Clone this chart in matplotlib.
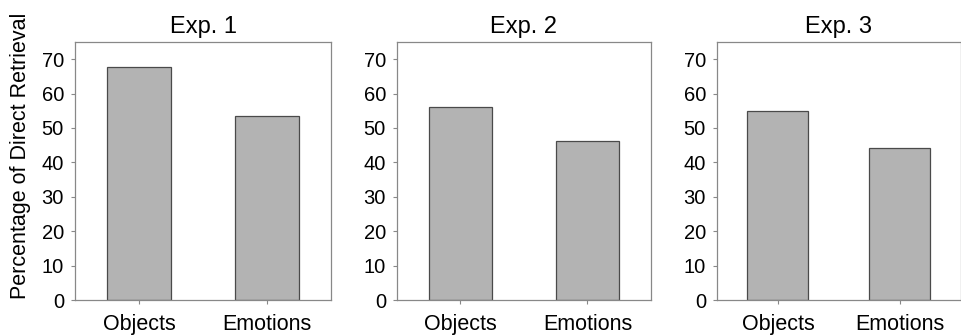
import numpy as np
import matplotlib.pyplot as plt

plt.rcParams['font.family'] = ['Liberation Sans', 'DejaVu Sans']

categories = ['Objects', 'Emotions']
titles = ['Exp. 1', 'Exp. 2', 'Exp. 3']
values = [
    [67.8, 53.4],
    [56.2, 46.1],
    [55.0, 44.3],
]
yticks = [0, 10, 20, 30, 40, 50, 60, 70]

fig = plt.figure(figsize=(9.62, 3.35), dpi=100)
W, H = 962., 335.
# axes boxes in pixels: left, right
boxes = [(75, 331), (397, 651), (717, 961)]
top, bottom = 42, 300

x = np.arange(len(categories))
for i, (l, r) in enumerate(boxes):
    ax = fig.add_axes([l / W, 1 - bottom / H, (r - l) / W, (bottom - top) / H])
    ax.bar(x, values[i], width=0.5, color='#b3b3b3', edgecolor='#4a4a4a', linewidth=0.9)
    ax.set_xlim(-0.5, 1.5)
    ax.set_ylim(0, 75)
    ax.set_yticks(yticks)
    ax.set_xticks(x)
    ax.set_xticklabels(categories, fontsize=15.5)
    ax.tick_params(axis='y', labelsize=14.5, length=3, color='#888888', pad=5)
    ax.tick_params(axis='x', length=3, color='#888888', pad=7)
    for s in ax.spines.values():
        s.set_color('#888888')
        s.set_linewidth(0.9)
    ax.set_title(titles[i], fontsize=17, pad=6.5)

fig.text(21 / W, 1 - 156 / H, 'Percentage of Direct Retrieval', fontsize=15.5,
         rotation=90, ha='center', va='center')

fig.savefig('out.png', dpi=100)
